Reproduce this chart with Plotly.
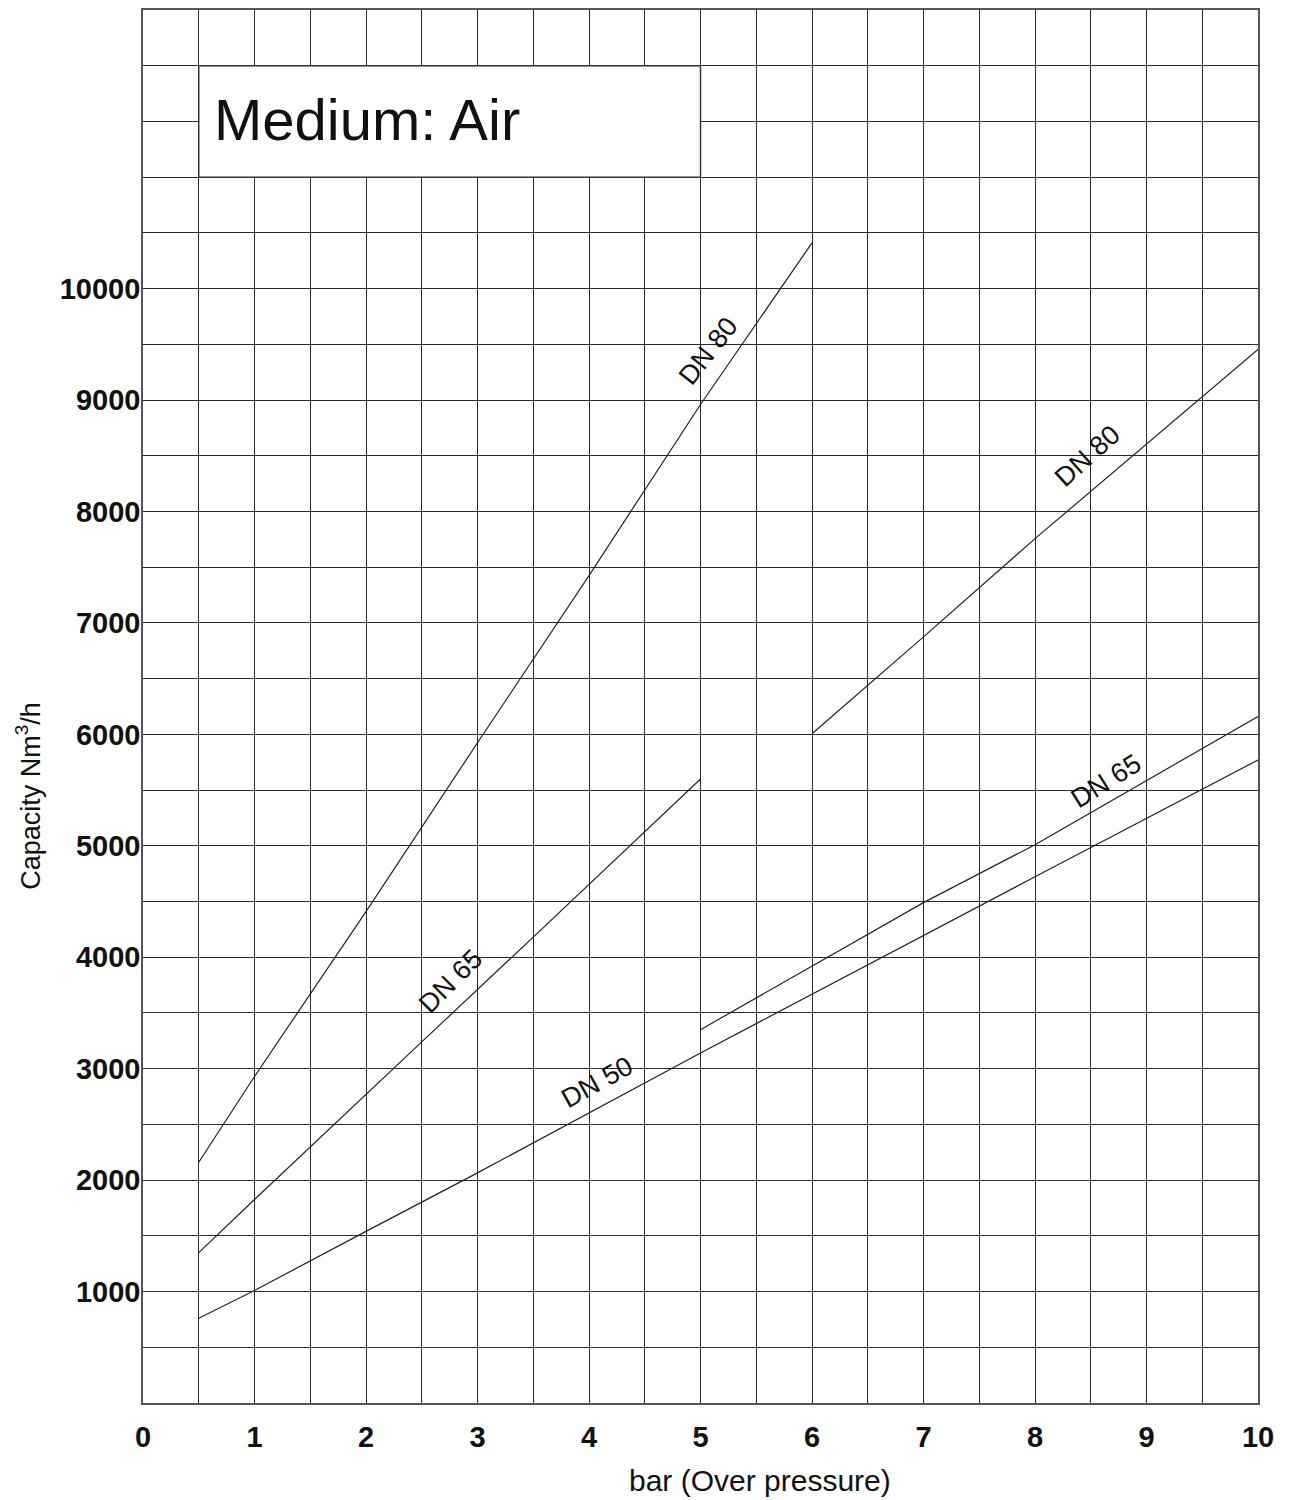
import plotly.graph_objects as go

# ---- data ----
dn80_left_x = [0.5, 1, 2, 3, 4, 5, 6]
dn80_left_y = [2160, 2930, 4410, 5925, 7425, 8960, 10410]

dn65_left_x = [0.5, 1, 2.5, 3, 3.5, 5]
dn65_left_y = [1350, 1826, 3240, 3706, 4181, 5600]

dn50_x = [0.5, 1, 2, 3, 5, 7, 8, 10]
dn50_y = [760, 1010, 1540, 2065, 3141, 4200, 4722, 5770]

dn80_right_x = [6, 7, 8, 9.5, 10]
dn80_right_y = [6005, 6875, 7756, 9024, 9454]

dn65_right_x = [5, 7, 8, 10]
dn65_right_y = [3350, 4490, 5010, 6160]

labels = ["DN 80", "DN 65", "DN 50", "DN 80", "DN 65"]
label_x = [5.07, 2.76, 4.08, 8.47, 8.64]
label_y = [9440, 3790, 2877, 8500, 5578]
label_angle = [-52, -45, -29, -42, -32]

y_tickvals = list(range(1000, 10001, 1000))
y_ticktext = [str(v) for v in y_tickvals]

FONT = "Liberation Sans, Arial, sans-serif"
LINE = dict(color="#222", width=1.2)
GRID = "#2a2a2a"

fig = go.Figure()
for xs, ys in [(dn80_left_x, dn80_left_y), (dn65_left_x, dn65_left_y), (dn50_x, dn50_y),
               (dn80_right_x, dn80_right_y), (dn65_right_x, dn65_right_y)]:
    fig.add_trace(go.Scatter(x=xs, y=ys, mode="lines", line=LINE, showlegend=False,
                             hoverinfo="skip"))

for t, lx, ly, ang in zip(labels, label_x, label_y, label_angle):
    fig.add_annotation(x=lx, y=ly, text=t, textangle=ang, showarrow=False,
                       font=dict(family=FONT, size=27, color="#111"))

# white box with title
fig.add_shape(type="rect", x0=0.5, x1=5, y0=11000, y1=12000, xref="x", yref="y",
              fillcolor="white", line=dict(color=GRID, width=1.4), layer="above")
fig.add_annotation(x=0.62, y=11515, text="Medium: Air", showarrow=False,
                   xanchor="left", yanchor="middle",
                   font=dict(family=FONT, size=58, color="#111"))

# axis titles
fig.add_annotation(xref="paper", yref="paper", x=0.553, y=-0.0555,
                   xanchor="center", yanchor="middle", text="bar (Over pressure)",
                   showarrow=False, font=dict(family=FONT, size=30, color="#111"))
fig.add_annotation(xref="paper", yref="paper", x=-0.103, y=0.436,
                   xanchor="center", yanchor="middle",
                   text="Capacity Nm<sup>3</sup>/h", textangle=-90,
                   showarrow=False, font=dict(family=FONT, size=27, color="#111"))

fig.update_xaxes(range=[0, 10], tick0=0, dtick=1,
                 showgrid=True, gridcolor=GRID, gridwidth=1.4, zeroline=False,
                 minor=dict(tick0=0, dtick=0.5, showgrid=True, gridcolor=GRID, gridwidth=1.4),
                 showline=True, mirror=True, linecolor="#555", linewidth=1.6,
                 ticks="", ticklen=0,
                 tickfont=dict(family=FONT, size=29, color="#111", weight="bold"),
                 ticklabelstandoff=7)
fig.update_yaxes(range=[0, 12500], tickmode="array", tickvals=y_tickvals, ticktext=y_ticktext,
                 showgrid=True, gridcolor=GRID, gridwidth=1.4, zeroline=False,
                 minor=dict(tick0=0, dtick=500, showgrid=True, gridcolor=GRID, gridwidth=1.4),
                 showline=True, mirror=True, linecolor="#555", linewidth=1.6,
                 ticks="", ticklen=0,
                 tickfont=dict(family=FONT, size=29, color="#111", weight="bold"),
                 ticklabelstandoff=-5)

fig.update_layout(width=1307, height=1500, margin=dict(l=135, r=57, t=0, b=105),
                  plot_bgcolor="white", paper_bgcolor="white", showlegend=False)

fig.write_html("out.html")
